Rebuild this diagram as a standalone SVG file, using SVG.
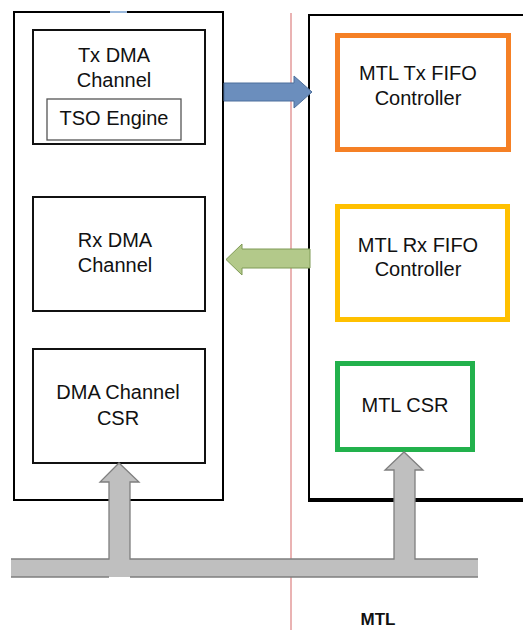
<svg xmlns="http://www.w3.org/2000/svg" width="523" height="630" viewBox="0 0 523 630">
  <style>
    text { font-family: "Liberation Sans", Arial, sans-serif; font-size: 20px; fill: #111; text-anchor: middle; }
    .frame { fill: #fff; stroke: #000; stroke-width: 2; }
    .blk { fill: #fff; stroke: #111; stroke-width: 2; }
    .inner { fill: #fff; stroke: #555; stroke-width: 1.3; }
    .bus { fill: #bfbfbf; }
    .busline { fill: none; stroke: #7f7f7f; stroke-width: 1.3; }
  </style>

  <rect width="523" height="630" fill="#fff"/>

  <!-- DMA side container -->
  <g id="dma">
    <rect class="frame" x="14" y="12" width="209" height="488"/>
    <line x1="110" y1="12" x2="127" y2="12" stroke="#9ab8dc" stroke-width="2"/>
  </g>

  <!-- MTL side container -->
  <g id="mtl">
    <path d="M523,15 H309 V500" fill="none" stroke="#000" stroke-width="2"/>
    <line x1="308" y1="500" x2="523" y2="500" stroke="#000" stroke-width="4"/>
  </g>

  <!-- boundary line -->
  <line x1="291" y1="13" x2="291" y2="630" stroke="#e39a9a" stroke-width="1.5"/>

  <g id="tx-dma">
    <rect class="blk" x="33" y="30" width="172" height="114"/>
    <text x="114" y="62">Tx DMA</text>
    <text x="114" y="87">Channel</text>
  </g>
  <g id="tso-engine">
    <rect class="inner" x="47" y="99" width="134" height="41"/>
    <text x="114" y="125">TSO Engine</text>
  </g>

  <g id="rx-dma">
    <rect class="blk" x="33" y="197" width="172" height="114"/>
    <text x="115" y="247">Rx DMA</text>
    <text x="115" y="272">Channel</text>
  </g>

  <g id="dma-csr">
    <rect class="blk" x="33" y="349" width="172" height="114"/>
    <text x="118" y="399">DMA Channel</text>
    <text x="118" y="425">CSR</text>
  </g>

  <g id="mtl-tx-fifo">
    <rect x="337.5" y="35.5" width="171" height="114" fill="#fff" stroke="#f58025" stroke-width="5"/>
    <text x="418" y="80">MTL Tx FIFO</text>
    <text x="418" y="105">Controller</text>
  </g>

  <g id="mtl-rx-fifo">
    <rect x="337.5" y="206.5" width="170" height="113" fill="#fff" stroke="#ffc000" stroke-width="5"/>
    <text x="418" y="252">MTL Rx FIFO</text>
    <text x="418" y="276">Controller</text>
  </g>

  <g id="mtl-csr">
    <rect x="337.5" y="363.5" width="135" height="86" fill="#fff" stroke="#22b14c" stroke-width="5"/>
    <text x="405" y="412">MTL CSR</text>
  </g>

  <g id="connectors">
    <!-- Tx data path -->
    <path d="M224,83 H294 V76 L312,92 L294,108 V101 H224 Z" fill="#6b8ebd" stroke="#4d6f9c" stroke-width="1"/>
    <!-- Rx data path -->
    <path d="M310,249 H242 V244 L226,259.5 L242,275 V268 H310 Z" fill="#b3c98a" stroke="#7f9a56" stroke-width="1"/>
    <!-- register bus -->
    <path class="bus" d="M11,559 H109 V482 H100 L119,463 L139,482 H130 V559 H394 V470 H385 L404,452 L423,470 H415 V559 H478 V577 H11 Z"/>
    <path class="busline" d="M11,559 H109 V482 H100 L119,463 L139,482 H130 V559 H394 V470 H385 L404,452 L423,470 H415 V559 H478"/>
    <path class="busline" d="M11,577 H109 M130,577 H478"/>
  </g>

  <text x="378" y="625" style="font-size:17px;font-weight:bold">MTL</text>
</svg>
